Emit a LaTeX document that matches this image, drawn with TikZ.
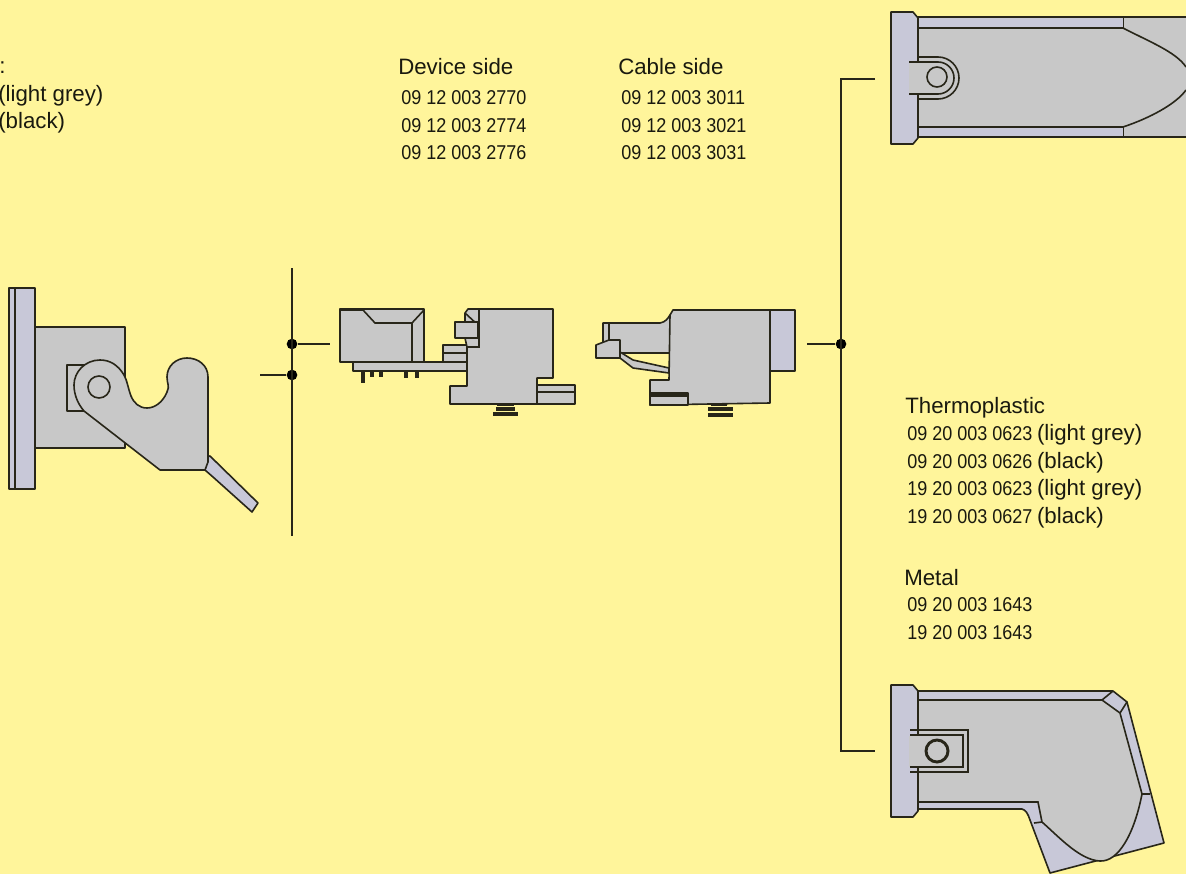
\documentclass[tikz,border=0pt]{standalone}
\usepackage{fontspec}
\setmainfont{Liberation Sans}
\newfontfamily\numfont[FakeStretch=0.9]{Liberation Sans}
\usetikzlibrary{positioning}

\definecolor{paper}{RGB}{255,245,155}
\definecolor{partgrey}{RGB}{200,200,200}
\definecolor{flangegrey}{RGB}{200,200,216}
\definecolor{inkline}{RGB}{40,38,25}
\definecolor{textink}{RGB}{25,25,15}

\newcommand{\wordfont}{\fontsize{16.7}{18}\selectfont}
\newcommand{\colourword}[1]{\hspace{3.5pt}{\rmfamily\wordfont #1}}

\tikzset{
  wordtext/.style={inner sep=0pt, anchor=west, text=textink, font=\wordfont},
  numtext/.style={inner sep=0pt, anchor=west, minimum height=20.25pt, text=textink, font=\numfont\fontsize{15}{16}\selectfont},
  junction/.style={circle, fill=black, inner sep=0pt, minimum size=8pt},
  busline/.style={line width=1.3pt, draw=inkline},
  part/.style={fill=partgrey, draw=inkline, line width=1.2pt, line join=round},
  flange/.style={fill=flangegrey, draw=inkline, line width=1.2pt, line join=round},
  edge/.style={draw=inkline, line width=1.2pt},
  fineedge/.style={draw=inkline, line width=0.7pt}
}

\begin{document}
\begin{tikzpicture}[x=0.75pt, y=-0.75pt]
\useasboundingbox (0,0) rectangle (1186,874);
\clip (0,0) rectangle (1186,874);
\fill [paper] (0,0) rectangle (1186,874);

% left latch
\draw [part] (35,327) rectangle (125,448);
\draw [flange] (9,288) rectangle (35,489);
\draw [edge] (15,288) -- (15,489);
\draw [part, line width=2.2pt] (67,365) rectangle (85,411);
\draw [flange] (207,457) -- (210,456) -- (258,503) -- (252,512) -- (213,477) -- (205,470) -- cycle;
\draw [part] (84,411) -- (160,470) -- (205,470) -- (208,462) -- (208,377)
  .. controls (208,365) and (198,358) .. (187,358)
  .. controls (176,358) and (167,366) .. (167,377)
  .. controls (167,384) and (170,386) .. (167,392)
  .. controls (163,402) and (155,408) .. (147,408)
  .. controls (139,408) and (134,403) .. (131,396)
  .. controls (128,388) and (127,380) .. (124,375)
  .. controls (118,365) and (110,360) .. (100,360)
  .. controls (85,360) and (74,372) .. (74,385)
  .. controls (74,395) and (78,404) .. (84,411) -- cycle;
\draw [edge, fill=partgrey] (99,387) circle (11);

% device side connector
\draw [part] (353,362) rectangle (468,371);
\draw [part] (340,309) rectangle (424,362);
\draw [edge] (363,310) -- (375,323) -- (412,323) -- (424,310);
\draw [edge] (412,323) -- (412,362);
\draw [edge, line width=1.8pt] (340,310) -- (363,310);
\draw [edge, line width=1.8pt] (340,362) -- (424,362);
\foreach \pinx/\pinlen in {363/383, 372/377, 381/377, 406/378, 417/378}
  \draw [inkline, line width=3pt] (\pinx,371) -- (\pinx,\pinlen);
\draw [part] (443,345) rectangle (467,362);
\draw [edge] (443,353) -- (467,353);
\draw [part] (468,309) -- (553,309) -- (553,378) -- (537,378) -- (537,385) -- (575,385)
  -- (575,404) -- (450,404) -- (450,386) -- (467,386) -- (467,347) -- (465,338) -- (465,313) -- cycle;
\draw [edge, line width=1.8pt] (479,309) -- (479,347) -- (467,347);
\draw [edge] (465,313) -- (479,326);
\draw [part] (455,322) rectangle (478,338);
\draw [edge] (465,338) -- (478,338);
\draw [edge] (537,378) -- (537,404);
\draw [edge] (537,392) -- (575,392);
\draw [edge] (497,405) -- (514,405);
\draw [inkline, line width=2.4pt] (496,409) -- (515,409);
\draw [inkline, line width=2.4pt] (493,414) -- (518,414);

% cable side connector
\draw [flange] (770,310) rectangle (795,371);
\draw [part] (603,323) -- (660,323) .. controls (666,322) and (668,318) .. (670,315) -- (670,353) -- (603,353) -- cycle;
\draw [edge] (609,323) -- (609,345);
\draw [part] (620,358) -- (633,368) -- (669,373) -- (669,368) -- (633,360) -- (620,352) -- cycle;
\draw [part] (596,345) -- (609,340) -- (620,340) -- (620,358) -- (596,358) -- cycle;
\draw [part] (670,315) -- (673,310) -- (770,310) -- (770,403) -- (650,405) -- (650,380) -- (669,380) -- cycle;
\draw [part] (650,393) rectangle (688,405);
\draw [inkline, line width=2.4pt] (650,395) -- (688,395);
\draw [edge] (711,405) -- (727,405);
\draw [inkline, line width=2.4pt] (708,409) -- (733,409);
\draw [inkline, line width=2.4pt] (708,415) -- (733,415);

% upper hood
\draw [flange] (917,17) -- (1190,17) -- (1190,137) -- (917,137) -- cycle;
\fill [partgrey] (917,28) -- (1123,28) -- (1190,70) -- (1190,90) -- (1123,127) -- (917,127) -- cycle;
\fill [partgrey] (1123,18) rectangle (1190,136);
\draw [edge] (917,28) -- (1123,28) .. controls (1150,42) and (1176,52) .. (1186,67);
\draw [edge] (917,127) -- (1123,127) .. controls (1150,118) and (1176,104) .. (1186,90);
\draw [fineedge] (1123,17) -- (1123,28);
\draw [fineedge] (1123,127) -- (1123,137);
\draw [flange] (891,12) -- (913,12) -- (918,18) -- (918,138) -- (913,144) -- (891,144) -- cycle;
\fill [partgrey] (909,63) rectangle (930,93);
\draw [edge] (917,57) -- (938,57) arc (-90:90:21) -- (917,99);
\draw [edge] (909,62) -- (938,62) arc (-90:90:16) -- (909,94);
\draw [edge, fill=partgrey] (937,77) circle (10);

% lower hood
\draw [part, fill=flangegrey] (917,691) -- (1113,691) -- (1127,702) -- (1164,843) -- (1050,873)
  -- (1030,820) .. controls (1028,814) and (1026,810) .. (1022,809) -- (917,809) -- cycle;
\fill [partgrey] (917,700) -- (1102,700) -- (1120,713) -- (1142,794)
  .. controls (1134,835) and (1118,862) .. (1100,861)
  .. controls (1080,860) and (1060,838) .. (1042,822) -- (1038,802) -- (917,802) -- cycle;
\draw [edge] (917,700) -- (1102,700) -- (1120,713) -- (1142,794)
  .. controls (1134,835) and (1118,862) .. (1100,861)
  .. controls (1080,860) and (1060,838) .. (1042,822) -- (1038,802) -- (917,802);
\draw [edge] (1113,691) -- (1102,700);
\draw [edge] (1127,702) -- (1120,713);
\draw [edge] (1142,794) -- (1150,794);
\draw [edge] (1042,822) -- (1034,823);
\draw [flange] (891,685) -- (913,685) -- (918,691) -- (918,811) -- (913,817) -- (891,817) -- cycle;
\fill [partgrey] (909,736) rectangle (962,767);
\draw [edge] (910,730) -- (968,730) -- (968,772) -- (910,772);
\draw [edge] (910,735) -- (963,735) -- (963,767) -- (910,767);
\draw [inkline, line width=2.2pt, fill=partgrey] (937,751) circle (11);

% connecting lines
\node [junction] (devdot) at (292,344) {};
\node [junction] (latchdot) at (292,375) {};
\node [junction] (cabledot) at (841,344) {};
\coordinate (leftbustop) at (292,268);
\coordinate (leftbusend) at (292,536);
\coordinate (devstub) at (330,344);
\coordinate (latchstub) at (260,375);
\coordinate (cablestub) at (807,344);
\coordinate (rightbustop) at (841,79);
\coordinate (rightbusend) at (841,751);
\coordinate (upperstub) at (875,79);
\coordinate (lowerstub) at (875,751);
\draw [busline] (leftbustop) -- (leftbusend);
\draw [busline] (devdot) -- (devstub);
\draw [busline] (latchdot) -- (latchstub);
\draw [busline] (cabledot) -- (cablestub);
\draw [busline] (upperstub) -- (rightbustop) -- (rightbusend) -- (lowerstub);

% texts
\node [wordtext] (colon) at (-1,68) {:};
\node [wordtext] (greyleft) at (-2,96) {(light grey)};
\node [wordtext] (blackleft) at (-2,123) {(black)};

\node [wordtext] (devside) at (398,67) {Device side};
\node [numtext] (devone) at (401,98) {09 12 003 2770};
\node [numtext, below right=0pt and 0pt of devone.south west] (devtwo) {09 12 003 2774};
\node [numtext, below right=0pt and 0pt of devtwo.south west] (devthree) {09 12 003 2776};

\node [wordtext] (cabside) at (618,67) {Cable side};
\node [numtext] (cabone) at (621,98) {09 12 003 3011};
\node [numtext, below right=0pt and 0pt of cabone.south west] (cabtwo) {09 12 003 3021};
\node [numtext, below right=0pt and 0pt of cabtwo.south west] (cabthree) {09 12 003 3031};

\node [wordtext] (thermo) at (905,408) {Thermoplastic};
\node [numtext] (thone) at (907,435) {09 20 003 0623\colourword{(light grey)}};
\node [numtext, below right=0pt and 0pt of thone.south west] (thtwo) {09 20 003 0626\colourword{(black)}};
\node [numtext, below right=0pt and 0pt of thtwo.south west] (ththree) {19 20 003 0623\colourword{(light grey)}};
\node [numtext, below right=0pt and 0pt of ththree.south west] (thfour) {19 20 003 0627\colourword{(black)}};

\node [wordtext] (metal) at (904,578) {Metal};
\node [numtext] (meone) at (907,605) {09 20 003 1643};
\node [numtext, below right=0pt and 0pt of meone.south west] (metwo) {19 20 003 1643};
\end{tikzpicture}
\end{document}
